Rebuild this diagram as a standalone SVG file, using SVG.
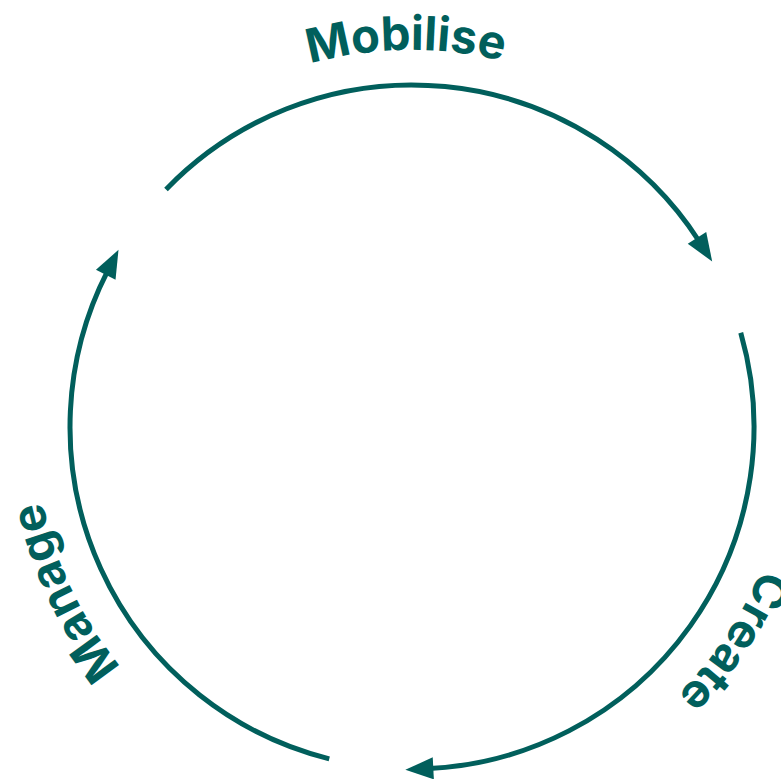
<svg xmlns="http://www.w3.org/2000/svg" width="781" height="779" viewBox="0 0 781 779">
  <style>
    .arc { fill: none; stroke: #015f5c; stroke-width: 5; }
    .lbl { font-family: Inter, "Liberation Sans", sans-serif; font-weight: 700; font-size: 47px; fill: #015f5c; }
  </style>
  <defs>
    <marker id="arrow" markerUnits="userSpaceOnUse" markerWidth="28" markerHeight="22" refX="4" refY="11" orient="auto" overflow="visible">
      <path d="M0,0 L28,11 L0,22 Z" fill="#015f5c"/>
    </marker>
    <path id="ring" d="M35,427 A377,377 0 1,1 789,427 A377,377 0 1,1 35,427"/>
  </defs>
  <rect width="781" height="779" fill="#ffffff"/>
  <g id="connectors">
    <path class="arc" d="M165.99,189.43 A342,342 0 0,1 699.15,241.24" marker-end="url(#arrow)"/>
    <path class="arc" d="M740.75,332.73 A342,342 0 0,1 429.30,768.56" marker-end="url(#arrow)"/>
    <path class="arc" d="M329.26,758.84 A342,342 0 0,1 107.56,271.21" marker-end="url(#arrow)"/>
  </g>
  <g id="mobilise">
    <text class="lbl" text-anchor="middle"><textPath href="#ring" startOffset="24.75%">Mobilise</textPath></text>
  </g>
  <g id="create">
    <text class="lbl" text-anchor="middle"><textPath href="#ring" startOffset="59.36%">Create</textPath></text>
  </g>
  <g id="manage">
    <text class="lbl" text-anchor="middle"><textPath href="#ring" startOffset="92.92%">Manage</textPath></text>
  </g>
</svg>
